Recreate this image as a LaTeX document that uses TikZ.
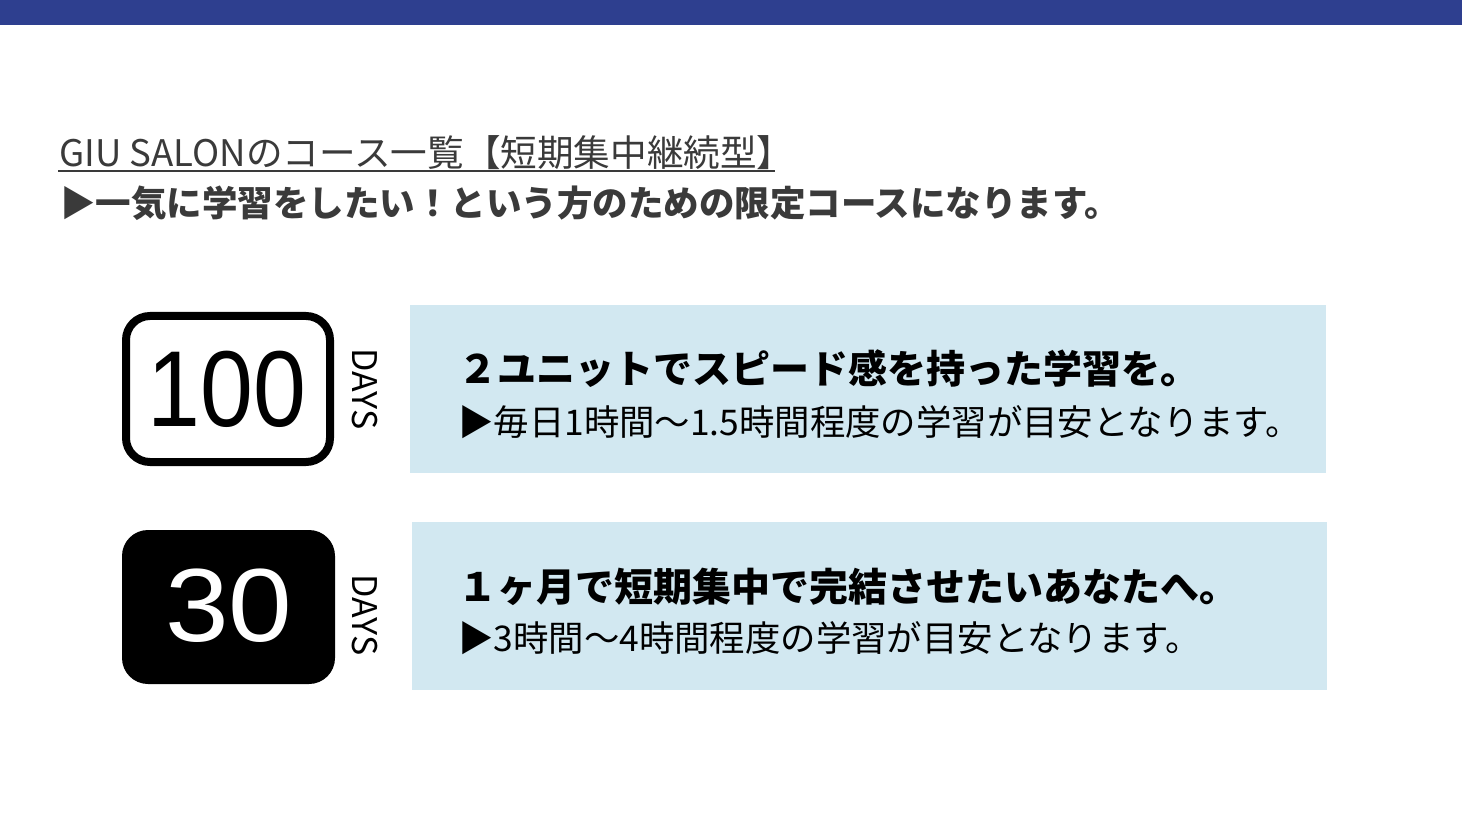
\documentclass[tikz,border=0pt]{standalone}
\usepackage{fontspec}
\newfontfamily\jp{Noto Sans CJK JP}
\newfontfamily\arial{Liberation Sans}
\definecolor{topbar}{HTML}{2E3F8F}
\definecolor{boxblue}{HTML}{D2E8F1}
\definecolor{titlegray}{HTML}{3A3A3A}
\tikzset{
  infobox/.style={fill=boxblue, draw=none},
  mainline/.style={anchor=west, inner sep=0pt, font=\jp\bfseries\fontsize{39}{42}\selectfont, text=black},
  subline/.style={anchor=west, inner sep=0pt, font=\jp\fontsize{35.4}{38}\selectfont, text=black},
  dayslabel/.style={rotate=-90, inner sep=0pt, font=\jp\fontsize{34}{36}\selectfont, text=black},
}
\begin{document}
\begin{tikzpicture}[x=1pt,y=-1pt]
\useasboundingbox (0,0) rectangle (1462,826);
\fill[white] (0,0) rectangle (1462,826);
\fill[topbar] (0,0) rectangle (1462,25);
% heading
\node[anchor=base west, inner sep=0pt, text=titlegray, font=\jp\fontsize{36.6}{40}\selectfont] (title) at (59,167) {GIU SALONのコース一覧【短期集中継続型】};
\draw[titlegray, line width=2pt] (58,171) -- (775,171);
\node[anchor=west, inner sep=0pt, text=titlegray, font=\jp\bfseries\fontsize{35.5}{38}\selectfont] (lead) at (60,203) {▶一気に学習をしたい！という方のための限定コースになります。};
% badge 100
\draw[line width=8pt, rounded corners=24pt] (126,316) rectangle (330,462);
\node[inner sep=0pt, xscale=0.88, font=\arial\fontsize{108}{110}\selectfont] (n100) at (227,389) {100};
\node[dayslabel] (d1) at (365,389) {DAYS};
% badge 30
\fill[black, rounded corners=26pt] (122,530) rectangle (335,684);
\node[inner sep=0pt, xscale=1.1, text=white, font=\arial\fontsize{104}{106}\selectfont] (n30) at (229,606) {30};
\node[dayslabel] (d2) at (365,615) {DAYS};
% boxes
\fill[infobox] (410,305) rectangle (1326,473);
\fill[infobox] (412,522) rectangle (1327,690);
\node[mainline] (m1) at (458,369) {２ユニットでスピード感を持った学習を。};
\node[subline] (s1) at (458,422) {▶毎日1時間〜1.5時間程度の学習が目安となります。};
\node[mainline] (m2) at (458,587) {１ヶ月で短期集中で完結させたいあなたへ。};
\node[subline] (s2) at (458,638) {▶3時間〜4時間程度の学習が目安となります。};
\end{tikzpicture}
\end{document}
